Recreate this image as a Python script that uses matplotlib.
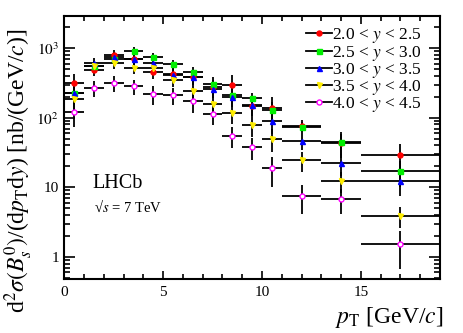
import numpy as np
import matplotlib
matplotlib.use("Agg")
import matplotlib.pyplot as plt
from matplotlib.lines import Line2D
from matplotlib.ticker import FixedLocator, FuncFormatter, LogLocator, NullFormatter

plt.rcParams['font.family'] = ['Liberation Serif', 'DejaVu Serif']
plt.rcParams['mathtext.fontset'] = 'stix'

# bins in pT [GeV/c]
pt = [0.5, 1.5, 2.5, 3.5, 4.5, 5.5, 6.5, 7.5, 8.5, 9.5, 10.5, 12, 14, 17]
pt_half = [0.5, 0.5, 0.5, 0.5, 0.5, 0.5, 0.5, 0.5, 0.5, 0.5, 0.5, 1, 1, 2]

labels = ["2.0 < $y$ < 2.5", "2.5 < $y$ < 3.0", "3.0 < $y$ < 3.5",
          "3.5 < $y$ < 4.0", "4.0 < $y$ < 4.5"]

# cross-section values [nb/(GeV/c)]
y1 = [316, 493, 791, 709, 451, 430, 386, 278, 291, 147, 139, 76.5, 44, 29.4]
y2 = [223, 555, 709, 903, 748, 594, 451, 310, 209, 189, 130, 72.6, 44.7, 17]
y3 = [228, 613, 748, 700, 613, 418, 379, 255, 196, 152, 88.5, 46, 22.5, 12.4]
y4 = [187, 545, 613, 520, 520, 354, 246, 158, 116, 78, 49.9, 24.6, 12.4, 3.9]
y5 = [119, 269, 317, 284, 218, 211, 173, 113, 54.5, 38, 18.7, 7.5, 6.9, 1.52]

e1 = [110, 100, 140, 130, 90, 90, 85, 70, 115, 45, 57, 15, 15, 13]
e2 = [60, 90, 110, 120, 100, 90, 80, 70, 55, 40, 40, 14, 18, 7]
e3 = [70, 100, 120, 110, 100, 80, 80, 65, 55, 45, 30, 12, 8, 5]
e4 = [60, 100, 110, 100, 100, 80, 60, 45, 35, 25, 18, 8, 4, 1.3]
e5 = [45, 70, 80, 70, 65, 60, 55, 35, 18, 13, 8.5, 3.4, 2.7, 0.85]

series = [y1, y2, y3, y4, y5]
errors = [e1, e2, e3, e4, e5]
colors = ['#ff0000', '#00ee00', '#0000ff', '#ffee00', '#ff00ff']
markers = ['o', 's', '^', 'v', 'o']
filled = [True, True, True, True, False]

fig = plt.figure(figsize=(4.63, 3.33), dpi=100)
ax = fig.add_axes([0.139, 0.162, 0.811, 0.790])

for yv, ev, c, m, f in zip(series, errors, colors, markers, filled):
    ax.errorbar(pt, yv, xerr=pt_half, yerr=ev, fmt=m, color='black',
                ecolor='black', elinewidth=1.3, capsize=0,
                ms=3.6, mfc=c if f else 'white', mec=c, mew=1.0, zorder=3)

ax.set_yscale('log')
ax.set_xlim(0, 19)
ax.set_ylim(0.48, 2900)

ax.xaxis.set_major_locator(FixedLocator([0, 5, 10, 15]))
ax.xaxis.set_minor_locator(FixedLocator(np.arange(0, 20, 1)))
ax.yaxis.set_major_locator(FixedLocator([1, 10, 100, 1000]))
ax.yaxis.set_minor_locator(LogLocator(base=10, subs=np.arange(2, 10)))
ax.yaxis.set_minor_formatter(NullFormatter())

def ylab(v, pos):
    if v == 1:
        return "1"
    if v == 10:
        return "10"
    return "$10^{%d}$" % int(round(np.log10(v)))

ax.yaxis.set_major_formatter(FuncFormatter(ylab))

ax.tick_params(which='both', direction='in', top=True, right=True,
               labelsize=11, width=1.2)
ax.tick_params(axis='x', which='major', length=6, pad=5)
ax.tick_params(axis='x', which='minor', length=3.5)
ax.tick_params(axis='y', which='major', length=8, pad=4)
ax.tick_params(axis='y', which='minor', length=4.5)
for s in ax.spines.values():
    s.set_linewidth(1.5)

ax.set_xlabel("$p_{\\mathrm{T}}$ [GeV/$c$]", fontsize=17, ha='right',
              va='center')
ax.xaxis.set_label_coords(1.01, -0.145)
ax.set_ylabel("d$^2\\sigma(B_s^0)$/(d$p_{\\mathrm{T}}$d$y$) [nb/(GeV/$c$)]",
              fontsize=17, va='center')
ax.yaxis.set_label_coords(-0.12, 0.41)

ax.text(0.075, 0.365, "LHCb", transform=ax.transAxes, fontsize=14.5,
        va='center', ha='left')
ax.text(0.078, 0.275, "\u221a$s$ = 7 TeV", transform=ax.transAxes,
        fontsize=10.5, va='center', ha='left')

handles = [Line2D([], [], color='black', lw=1.3, marker=m, ms=3.6,
                  mfc=c if f else 'white', mec=c, mew=1.0)
           for c, m, f in zip(colors, markers, filled)]
ax.legend(handles, labels, loc='upper right', bbox_to_anchor=(0.98, 1.0),
          frameon=False, fontsize=12.5, handlelength=1.55, handletextpad=0.0,
          labelspacing=-0.1, borderaxespad=0.2)

fig.savefig("out.png", dpi=100)
